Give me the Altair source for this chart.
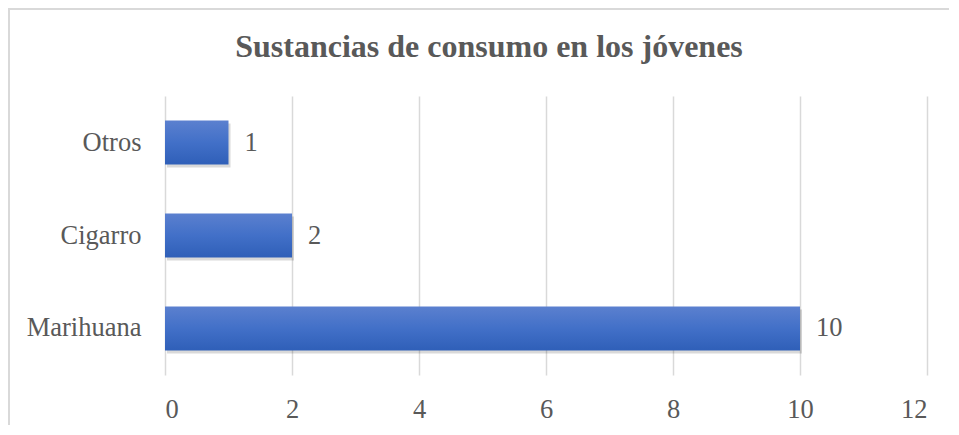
import altair as alt
import pandas as pd

categories = ["Otros", "Cigarro ", "Marihuana"]
values = [1, 2, 10]
x_ticks = [0, 2, 4, 6, 8, 10, 12]
title_text = ["Sustancias de consumo en los jóvenes"]

df = pd.DataFrame({"cat": categories, "val": values})
tdf = pd.DataFrame({"t": title_text})

FONT = "Liberation Serif"
GRAY = "#595959"

y_enc = alt.Y("cat:N", sort=categories, title=None,
              scale=alt.Scale(paddingInner=0.527, paddingOuter=0.264),
              axis=alt.Axis(domain=False, ticks=False, labelFont=FONT, labelFontSize=26.5,
                            labelColor=GRAY, labelPadding=24, grid=False))
x_enc = alt.X("val:Q", title=None,
              scale=alt.Scale(domain=[0, 12], nice=False),
              axis=alt.Axis(values=x_ticks, domain=False, ticks=False, labelFont=FONT,
                            labelFontSize=26.5, labelColor=GRAY, labelPadding=21,
                            grid=True, gridColor="#d9d9d9", gridWidth=1.5))

base = alt.Chart(df)

shadow = base.mark_bar(color="#000000", opacity=0.15, xOffset=2, yOffset=3).encode(
    x=x_enc, y=y_enc)

bars = base.mark_bar(
    color=alt.Gradient(gradient="linear",
                       stops=[alt.GradientStop(color="#5b80cf", offset=0),
                              alt.GradientStop(color="#4270c8", offset=0.5),
                              alt.GradientStop(color="#2f5fb8", offset=1)],
                       x1=0, x2=0, y1=0, y2=1)
).encode(x=x_enc, y=y_enc)

labels = base.mark_text(align="left", baseline="middle", dx=16, font=FONT,
                        fontSize=26.5, color=GRAY).encode(
    x=x_enc, y=y_enc, text="val:Q")

title = alt.Chart(tdf).mark_text(font=FONT, fontSize=32, fontWeight="bold", color=GRAY,
                                 align="center", baseline="alphabetic").encode(
    x=alt.value(324), y=alt.value(-39), text="t:N")

border_top = alt.Chart(tdf).mark_rect(color="#d9d9d9").encode(
    x=alt.value(-157), x2=alt.value(800), y=alt.value(-88), y2=alt.value(-86))
border_left = alt.Chart(tdf).mark_rect(color="#d9d9d9").encode(
    x=alt.value(-157), x2=alt.value(-155), y=alt.value(-88), y2=alt.value(360))

chart = alt.layer(border_top, border_left, shadow, bars, labels, title).properties(
    width=762, height=279,
    autosize=alt.AutoSizeParams(type="none"),
    padding={"left": 157, "top": 88, "right": 22, "bottom": 50},
).configure_view(stroke=None).configure_axis(labelFont=FONT)

chart.save("out.html", embed_options={"renderer": "svg", "actions": False})
